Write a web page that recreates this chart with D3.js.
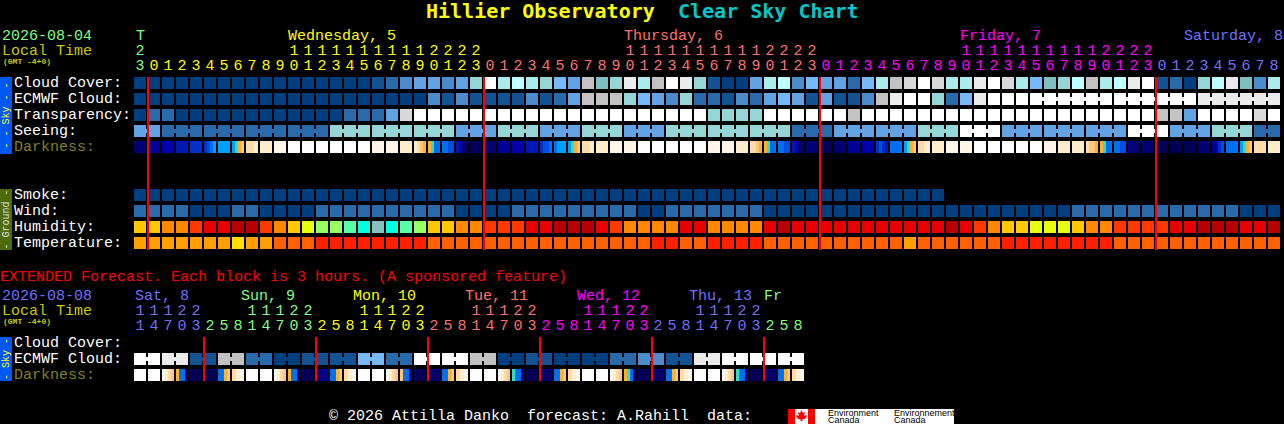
<!DOCTYPE html>
<html>
<head>
<meta charset="utf-8">
<script src="https://cdn.jsdelivr.net/npm/d3@7"></script>
<style>
  html, body { margin: 0; padding: 0; background: #000; overflow: hidden; }
  svg { display: block; }
  text { font-family: "Liberation Mono", monospace; white-space: pre; }
  .title { font-family: "DejaVu Sans Mono", monospace; }
  .logo { font-family: "Liberation Sans", sans-serif; }
</style>
</head>
<body>
<svg id="chart"></svg>
<script>
const width = 1284;
const height = 424;

// cloud style levels, 0 = clear dark blue .. 13 = overcast white
const cloudColors = ['#003f7f', '#135393', '#2a6aaa', '#4c8ccc', '#63a3e3', '#78b8f8', '#7fbfbf',
                     '#95d5d5', '#abebeb', '#c0ffff', '#c2c2c2', '#d8d8d8', '#ebebeb', '#ffffff'];
const darkColors = ['#000058', '#000070', '#000098', '#0000b0', '#0018b8', '#0030c8', '#0050e0', '#0070f0',
                    '#00a0ff', '#30e0c0', '#ffb030', '#ffc878', '#ffdcaa', '#ffeccc', '#fff6ea', '#ffffff'];
const humidityColors = ['#b80000', '#e80000', '#ff3800', '#ff8800', '#ffc800', '#e8ff10', '#98ff60', '#58ffa8', '#00ffe0', '#88c0c0'];
const temperatureColors = ['#ff2000', '#ff6000', '#ffa000', '#ffe000'];
const dayColors = ['#80ff80', '#ffff00', '#ff7070', '#ff00ff', '#7070ff'];
const extDayColors = ['#7070ff', '#80ff80', '#ffff00', '#ff7070', '#ff00ff', '#7070ff', '#80ff80'];

const hours24 = [0, 1, 2, 3, 4, 5, 6, 7, 8, 9, 10, 11, 12, 13, 14, 15, 16, 17, 18, 19, 20, 21, 22, 23];
const topHours = [23, ...hours24, ...hours24, ...hours24, 0, 1, 2, 3, 4, 5, 6, 7, 8];
const extHours = [11, 14, 17, 20, 23,
  2, 5, 8, 11, 14, 17, 20, 23,
  2, 5, 8, 11, 14, 17, 20, 23,
  2, 5, 8, 11, 14, 17, 20, 23,
  2, 5, 8, 11, 14, 17, 20, 23,
  2, 5, 8, 11, 14, 17, 20, 23,
  2, 5, 8];
const extDaySizes = [5, 8, 8, 8, 8, 8, 3];

const topDays = [['T', 0], ['Wednesday, 5', 11], ['Thursday, 6', 35], ['Friday, 7', 59], ['Saturday, 8', 75]];
const extDays = [['Sat, 8', 0], ['Sun, 9', 8], ['Mon, 10', 16], ['Tue, 11', 24], ['Wed, 12', 32], ['Thu, 13', 40], ['Fr', 45]];

const cloudCover = [0, 0, 0, 0, 0, 0, 0, 0, 0, 0, 0, 0, 0, 0, 0, 0, 0, 1, 2, 3, 4,
  4, 3, 4, 7, 13, 8, 9, 8, 7, 5, 4, 10, 6, 7, 12, 8, 10, 13, 12, 7, 1, 0, 0, 4, 8, 9, 3, 5, 4, 4, 2,
  5, 8, 10, 11, 13, 11, 8, 8, 12, 13, 11, 8, 5, 6, 7, 9, 10, 8, 9, 12, 13, 1, 2, 0, 7, 9, 12, 6, 3, 8];
const ecmwfCloud = [0, 0, 0, 0, 0, 0, 0, 0, 0, 0, 0, 0, 0, 0, 0, 0, 0, 0, 0, 0, 0,
  3, 1, 3, 1, 1, 1, 1, 3, 1, 2, 4, 10, 10, 10, 7, 5, 4, 3, 7, 2, 2, 1, 3, 2, 4, 5, 4, 1, 4, 1, 1,
  3, 10, 12, 13, 13, 7, 2, 5, 12, 13, 13, 13, 13, 13, 12];
const ecmwfSizes = [1, 1, 1, 1, 1, 1, 1, 1, 1, 1, 1, 1, 1, 1, 1, 1, 1, 1, 1, 1, 1,
  1, 1, 1, 1, 1, 1, 1, 1, 1, 1, 1, 1, 1, 1, 1, 1, 1, 1, 1, 1, 1, 1, 1, 1, 1, 1, 1, 1, 1, 1, 1,
  1, 1, 1, 1, 1, 1, 1, 1, 1, 1, 1, 1, 6, 6, 6];
const transparency = [0, 2, 2, 0, 0, 0, 0, 0, 0, 0, 0, 0, 0, 0, 0, 2, 2, 2, 4, 11, 13,
  13, 13, 13, 13, 13, 13, 13, 13, 13, 13, 13, 13, 13, 13, 13, 13, 13, 13, 13, 13, 7, 7, 7, 7, 13, 13, 13, 13, 13, 13, 10,
  13, 13, 13, 13, 13, 13, 13, 13, 13, 13, 13, 13, 13, 13, 13, 13, 13, 13, 13, 13, 13, 10, 10, 4, 13, 13, 13, 13, 11, 13];
const seeing = [4, 2, 2, 2, 2, 7, 7, 7, 4, 7, 4, 7, 4, 7, 7, 7, 2, 4, 4, 7, 13, 4, 4, 4, 13, 4, 7, 2];
const seeingSizes = [2, 3, 3, 3, 3, 3, 3, 3, 3, 3, 3, 3, 3, 3, 3, 3, 3, 3, 3, 3, 3, 3, 3, 3, 3, 3, 3, 2];
const darkness = [1, 2, 3, 4, 5, [5, 6, 7, 8], 8, [8, 9, 10, 11], [12, 12, 13], 13, 14, 15, 15, 15, 15, 15, 15, 14, 14, 13, [13, 12, 11, 10],
  [10, 9, 7, 7], [7, 7, 6, 6], [4, 3, 1, 1], 0, 1, 2, 3, 4, [5, 6, 6, 7], [7, 8, 8, 8], [8, 9, 10, 11], [12, 12, 13], 13, 14, 14, 15, 15, 15, 15, 15, 14, 14, 13, [12, 12, 11, 10],
  [10, 9, 7, 7], [7, 7, 6, 6], [4, 3, 1, 1], 1, 0, 1, 2, 3, [5, 6, 5, 4], 7, [8, 9, 10, 11], [12, 13], 13, 14, 14, 15, 15, 15, 15, 15, 14, 13, 13, [12, 11, 11, 10],
  [10, 9, 7, 7], [7, 7, 6, 6], [2, 1, 1, 1], 1, 0, 0, 0, 1, [2, 3, 5, 6], 7, [8, 9, 10, 11], 12, 13];

const smoke = [0, 0, 0, 0, 0, 0, 0, 0, 0, 0, 0, 0, 0, 0, 0, 0, 0, 0, 0, 0, 0, 0, 0, 0, 0, 0, 0, 0, 0,
  0, 0, 0, 0, 0, 0, 0, 0, 0, 0, 0, 0, 0, 0, 0, 0, 0, 0, 0, 0, 0, 0, 0, 0, 0, 0, 0, 0, 0];
const wind = [2, 2, 2, 2, 0, 0, 0, 2, 2, 0, 0, 0, 0, 2, 2, 2, 2, 2, 2, 2, 2,
  2, 2, 0, 0, 0, 0, 2, 2, 2, 2, 2, 2, 2, 2, 2, 0, 0, 2, 2, 2, 2, 2, 2, 2, 0, 0, 0, 0, 0, 0, 0,
  0, 0, 0, 0, 0, 0, 0, 0, 0, 0, 0, 0, 0, 0, 0, 2, 2, 2, 2, 2, 2, 2, 2, 2, 2, 2, 2, 0, 0, 0];
const humidity = [4, 4, 3, 3, 2, 1, 1, 0, 0, 2, 3, 4, 5, 6, 6, 7, 8, 9, 8, 7, 6,
  4, 4, 3, 3, 2, 2, 2, 1, 1, 0, 0, 0, 1, 2, 3, 3, 3, 3, 1, 1, 3, 3, 3, 3, 1, 0, 1, 1, 1, 1, 1,
  1, 1, 1, 1, 1, 1, 0, 1, 2, 3, 4, 4, 5, 5, 5, 4, 3, 3, 2, 2, 2, 2, 1, 1, 0, 0, 0, 1, 1, 0];
const temperature = [2, 2, 2, 2, 2, 2, 2, 3, 2, 2, 1, 1, 1, 0, 0, 0, 0, 0, 0, 0, 0,
  1, 1, 1, 1, 1, 1, 1, 1, 1, 1, 1, 1, 1, 1, 1, 1, 0, 0, 1, 1, 0, 0, 0, 0, 1, 1, 1, 1, 1, 1, 1,
  1, 1, 1, 2, 1, 1, 1, 1, 1, 1, 0, 0, 0, 0, 0, 0, 0, 0, 1, 1, 1, 1, 1, 1, 1, 1, 1, 1, 1, 1];

const extEcmwf = [13, 12, 1, 10, 2, 0, 1, 1, 5, 2, 13, 13, 10, 0, 1, 0, 0, 2, 3, 1, 12, 13, 13, 13];
const extEcmwfSizes = [2, 2, 2, 2, 2, 2, 2, 2, 2, 2, 2, 2, 2, 2, 2, 2, 2, 2, 2, 2, 2, 2, 2, 2];
const extDarkness = [15, 15, [14, 13, 12, 11], [10, 7, 7, 1], 0, 0, [7, 7, 10, 11], [12, 13, 14],
  15, 15, [14, 13, 12, 11], [10, 7, 7, 1], 0, [1, 2], [7, 7, 10, 11], [12, 13, 14],
  15, 15, [14, 13, 12, 11], [11, 7, 7, 2], 0, 1, [7, 7, 10, 11], [12, 13, 14],
  15, 15, [14, 13, 12, 11], [9, 7, 7, 2], 0, 1, [7, 7, 10, 11], [12, 13, 14],
  15, 15, [14, 13, 12, 11], [10, 9, 7, 2], 0, 1, [7, 7, 10, 11], [12, 13, 14],
  15, 15, [14, 13, 12, 11], [9, 7, 7, 2], 0, 1, [7, 7, 10, 11], [12, 13, 14]];

const skyRows = ['Cloud Cover:', 'ECMWF Cloud:', 'Transparency:', 'Seeing:', 'Darkness:'];
const groundRows = ['Smoke:', 'Wind:', 'Humidity:', 'Temperature:'];
const extRows = ['Cloud Cover:', 'ECMWF Cloud:', 'Darkness:'];
const midnightCols = [1, 25, 49, 73];
const extMidnightCols = [5, 13, 21, 29, 37, 45];

const svg = d3.select('#chart').attr('width', width).attr('height', height);

const step = 14;
const cell = 12;
const colScale = n => d3.scaleBand().domain(d3.range(n)).range([134, 134 + n * step - (step - cell)]).paddingInner((step - cell) / step);
const rowScale = (rows, top) => d3.scaleBand().domain(rows).range([top, top + rows.length * 16 - 4]).paddingInner(4 / 16);

const x = colScale(82);
const xExt = colScale(48);
const ySky = rowScale(skyRows, 77);
const yGround = rowScale(groundRows, 189);
const yExt = rowScale(extRows, 337);

const cloudScale = d3.scaleOrdinal(d3.range(cloudColors.length), cloudColors);
const darkScale = d3.scaleOrdinal(d3.range(darkColors.length), darkColors);
const humidityScale = d3.scaleOrdinal(d3.range(humidityColors.length), humidityColors);
const temperatureScale = d3.scaleOrdinal(d3.range(temperatureColors.length), temperatureColors);

// one rect per cell; cells of one block get a short bridge between them
function drawRow(xs, top, values, color, sizes) {
  const g = svg.append('g');
  const blockSizes = sizes || values.map(() => 1);
  let col = 0;
  values.forEach((v, b) => {
    for (let k = 0; k < blockSizes[b]; k++) {
      g.append('rect').attr('x', xs(col)).attr('y', top)
        .attr('width', xs.bandwidth()).attr('height', xs.bandwidth())
        .attr('fill', color(v));
      if (k < blockSizes[b] - 1) {
        g.append('rect').attr('x', xs(col) + xs.bandwidth()).attr('y', top + 4)
          .attr('width', step - cell).attr('height', 4)
          .attr('fill', color(v));
      }
      col++;
    }
  });
}

// darkness cells can change colour inside the hour
function drawDarkness(xs, top, values) {
  const g = svg.append('g').attr('shape-rendering', 'crispEdges');
  values.forEach((v, i) => {
    const parts = [].concat(v);
    const w = xs.bandwidth() / parts.length;
    parts.forEach((p, k) => {
      g.append('rect').attr('x', xs(i) + k * w).attr('y', top)
        .attr('width', w).attr('height', xs.bandwidth())
        .attr('fill', darkScale(p));
    });
  });
}

function label(txt, px, py, color, size, weight) {
  return svg.append('text').attr('x', px).attr('y', py)
    .attr('fill', color).attr('font-size', size || 15)
    .attr('font-weight', weight || 'normal').text(txt);
}

function strip(top, bottom, fill, txt, color) {
  svg.append('rect').attr('x', 0).attr('y', top).attr('width', 12).attr('height', bottom - top).attr('fill', fill);
  svg.append('text').attr('transform', `translate(9, ${(top + bottom) / 2}) rotate(-90)`)
    .attr('text-anchor', 'middle').attr('fill', color).attr('font-size', 10).text(txt);
}

function rowLabel(rows, yScale) {
  rows.forEach(r => {
    label(r, 14, yScale(r) + 10, r === 'Darkness:' ? '#808020' : '#ffffff');
  });
}

function hourTicks(xs, hours, colorOf, y10, y1) {
  hours.forEach((h, i) => {
    const c = colorOf(i);
    const cx = xs(i) + xs.bandwidth() / 2;
    if (h >= 10) label(Math.floor(h / 10), cx, y10, c).attr('text-anchor', 'middle');
    label(h % 10, cx, y1, c).attr('text-anchor', 'middle');
  });
}

function redLines(xs, cols, top, bottom) {
  svg.append('g').selectAll('rect').data(cols).enter().append('rect')
    .attr('x', d => xs(d) - 1).attr('y', top)
    .attr('width', 2).attr('height', bottom - top)
    .attr('fill', '#ff0000');
}

// title
label('Hillier Observatory', 426, 18, '#ffff00', 20, 'bold').attr('class', 'title');
label('Clear Sky Chart', 678, 18, '#00c8c8', 20, 'bold').attr('class', 'title');

// hourly header
label('2026-08-04', 2, 40, '#80ff80');
label('Local Time', 2, 55, '#c8c800');
label('(GMT -4+0)', 3, 64, '#c8c800', 8, 'bold');

const topDayIndex = [];
let dayNo = 0;
topHours.forEach((h, i) => {
  if (h === 0 && i > 0) dayNo++;
  topDayIndex.push(dayNo);
});
topDays.forEach(([name, col], i) => {
  label(name, x(col) + (i === 0 ? 2 : 0), 40, dayColors[i]);
});
hourTicks(x, topHours, i => dayColors[topDayIndex[i]], 55, 70);

// hourly rows
drawRow(x, ySky(skyRows[0]), cloudCover, cloudScale);
drawRow(x, ySky(skyRows[1]), ecmwfCloud, cloudScale, ecmwfSizes);
drawRow(x, ySky(skyRows[2]), transparency, cloudScale);
drawRow(x, ySky(skyRows[3]), seeing, cloudScale, seeingSizes);
drawDarkness(x, ySky(skyRows[4]), darkness);

drawRow(x, yGround(groundRows[0]), smoke, cloudScale);
drawRow(x, yGround(groundRows[1]), wind, cloudScale);
drawRow(x, yGround(groundRows[2]), humidity, humidityScale);
drawRow(x, yGround(groundRows[3]), temperature, temperatureScale);

redLines(x, midnightCols, 77, 250);

strip(77, 154, '#0058f0', '- - Sky - -', '#ffff00');
strip(189, 250, '#4d6b0a', '- Ground -', '#e0e0e0');
rowLabel(skyRows, ySky);
rowLabel(groundRows, yGround);

// extended forecast
label('EXTENDED Forecast. Each block is 3 hours. (A sponsored feature)', 0, 281, '#ff0000');
label('2026-08-08', 2, 300, '#7070ff');
label('Local Time', 2, 315, '#c8c800');
label('(GMT -4+0)', 3, 324, '#c8c800', 8, 'bold');

const extDayIndex = [];
extDaySizes.forEach((n, d) => { for (let k = 0; k < n; k++) extDayIndex.push(d); });
extDays.forEach(([name, col], i) => {
  // day names sit a little left of their first tens digit
  const nudge = i === 0 ? 1 : i === extDays.length - 1 ? 0 : -5;
  label(name, xExt(col) + nudge, 300, extDayColors[i]);
});
hourTicks(xExt, extHours, i => extDayColors[extDayIndex[i]], 315, 330);

drawRow(xExt, yExt(extRows[1]), extEcmwf, cloudScale, extEcmwfSizes);
drawDarkness(xExt, yExt(extRows[2]), extDarkness);
redLines(xExt, extMidnightCols, 337, 381);

strip(337, 381, '#0058f0', '- Sky -', '#ffff00');
rowLabel(extRows, yExt);

// footer
label('\u00a9 2026 Attilla Danko  forecast: A.Rahill  data:', 329, 420, '#ffffff');

svg.append('rect').attr('x', 788).attr('y', 409).attr('width', 166).attr('height', 15).attr('fill', '#ffffff');
svg.append('rect').attr('x', 788).attr('y', 409).attr('width', 7).attr('height', 15).attr('fill', '#ff0000');
svg.append('rect').attr('x', 808).attr('y', 409).attr('width', 7).attr('height', 15).attr('fill', '#ff0000');
svg.append('path').attr('d', 'M801.5 410l1.5 3 2-1-1 4 2-1 1 1-2 3h-2.5v2h-2v-2H798l-2-3 1-1 2 1-1-4 2 1z').attr('fill', '#ff0000');
label('Environment', 828, 416, '#000000', 9).attr('class', 'logo');
label('Canada', 828, 423, '#000000', 9).attr('class', 'logo');
label('Environnement', 894, 416, '#000000', 9).attr('class', 'logo');
label('Canada', 894, 423, '#000000', 9).attr('class', 'logo');
</script>
</body>
</html>
